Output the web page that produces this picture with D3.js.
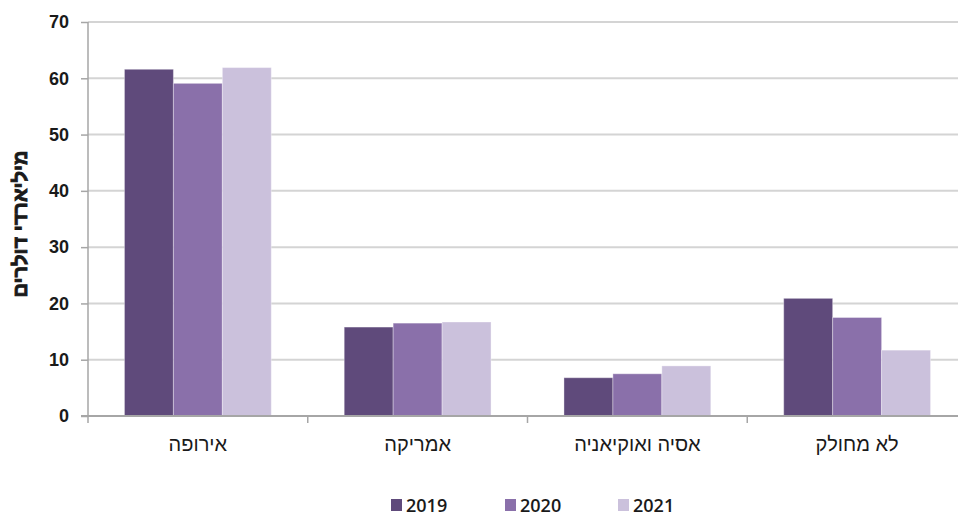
<!DOCTYPE html>
<html>
<head>
<meta charset="utf-8">
<script src="https://cdn.jsdelivr.net/npm/d3@7"></script>
<style>
  body { margin: 0; background: #fff; }
  svg { font-family: "Open Sans", "Noto Sans", sans-serif; }
</style>
</head>
<body>
<div id="chart"></div>
<script>
const categories = ['אירופה', 'אמריקה', 'אסיה ואוקיאניה', 'לא מחולק'];
const years = ['2019', '2020', '2021'];
const values2019 = [61.6, 15.8, 6.8, 20.9];
const values2020 = [59.1, 16.5, 7.5, 17.5];
const values2021 = [61.9, 16.7, 8.9, 11.7];
const yTicks = [0, 10, 20, 30, 40, 50, 60, 70];
const colors = ['#5f4a7b', '#8a70aa', '#cbc1dc'];

const series = [values2019, values2020, values2021];

const width = 958, height = 515;
const margin = {top: 22, right: -9, bottom: 99, left: 88};

const svg = d3.select('#chart').append('svg')
    .attr('width', width)
    .attr('height', height);

const x = d3.scaleBand()
    .domain(categories)
    .range([margin.left, width - margin.right])
    .paddingInner(0)
    .paddingOuter(0);

const xInner = d3.scaleBand()
    .domain(years)
    .range([0, x.bandwidth()])
    .paddingOuter(0.745)
    .paddingInner(0);

const y = d3.scaleLinear()
    .domain([0, 70])
    .range([height - margin.bottom, margin.top]);

// gridlines
svg.append('g')
    .selectAll('line')
    .data(yTicks.slice(1))
    .join('line')
    .attr('x1', margin.left)
    .attr('x2', width)
    .attr('y1', d => y(d))
    .attr('y2', d => y(d))
    .attr('stroke', '#d4d4d4')
    .attr('stroke-width', 2);

// bars
const groups = svg.append('g')
    .selectAll('g')
    .data(categories)
    .join('g')
    .attr('transform', d => `translate(${x(d)},0)`);

groups.selectAll('rect')
    .data((c, i) => years.map((yr, j) => ({year: yr, value: series[j][i], color: colors[j]})))
    .join('rect')
    .attr('x', d => xInner(d.year))
    .attr('width', xInner.bandwidth())
    .attr('y', d => y(d.value))
    .attr('height', d => y(0) - y(d.value))
    .attr('fill', d => d.color)
    .attr('stroke', 'rgba(255,255,255,0.35)')
    .attr('stroke-width', 1);

// y axis
const yAxis = d3.axisLeft(y).tickValues(yTicks).tickSize(7).tickPadding(12);
const yg = svg.append('g')
    .attr('transform', `translate(${margin.left},0)`)
    .call(yAxis);
yg.select('.domain').attr('stroke', '#a6a6a6').attr('stroke-width', 1.5)
    .attr('d', `M0,${y(70)}V${y(0)}`);
yg.selectAll('.tick line').attr('stroke', '#a6a6a6').attr('stroke-width', 1.5);
yg.selectAll('.tick text')
    .attr('font-size', 18)
    .attr('font-weight', 600)
    .attr('fill', '#1a1a1a');

// x axis
const xg = svg.append('g')
    .attr('transform', `translate(0,${y(0)})`);
xg.append('line')
    .attr('x1', margin.left - 7)
    .attr('x2', width)
    .attr('stroke', '#a6a6a6')
    .attr('stroke-width', 2);
xg.selectAll('.tk')
    .data(categories)
    .join('line')
    .attr('class', 'tk')
    .attr('x1', d => x(d))
    .attr('x2', d => x(d))
    .attr('y1', 0)
    .attr('y2', 7)
    .attr('stroke', '#a6a6a6')
    .attr('stroke-width', 1.5);
xg.selectAll('text')
    .data(categories)
    .join('text')
    .attr('x', d => x(d) + x.bandwidth() / 2)
    .attr('y', 35)
    .attr('text-anchor', 'middle')
    .attr('font-family', '"Liberation Sans", Arial, sans-serif')
    .attr('font-size', 20)
    .attr('fill', '#1a1a1a')
    .text(d => d);

// y title (stroke thickens the hebrew glyphs)
svg.append('text')
    .attr('transform', `translate(27,${(y(0) + y(70)) / 2 + 5}) rotate(-90)`)
    .attr('text-anchor', 'middle')
    .attr('font-family', '"Liberation Sans", Arial, sans-serif')
    .attr('font-size', 20)
    .attr('font-weight', 700)
    .attr('fill', '#1a1a1a')
    .attr('stroke', '#1a1a1a')
    .attr('stroke-width', 0.9)
    .text('מיליארדי דולרים');

// legend
const legendX = [391, 505, 618];
const legend = svg.append('g')
    .selectAll('g')
    .data(years)
    .join('g')
    .attr('transform', (d, i) => `translate(${legendX[i]},499)`);
legend.append('rect')
    .attr('width', 11)
    .attr('height', 12)
    .attr('fill', (d, i) => colors[i]);
legend.append('text')
    .attr('x', 15)
    .attr('y', 12.5)
    .attr('font-size', 18)
    .attr('font-weight', 600)
    .attr('fill', '#1a1a1a')
    .text(d => d);
</script>
</body>
</html>
